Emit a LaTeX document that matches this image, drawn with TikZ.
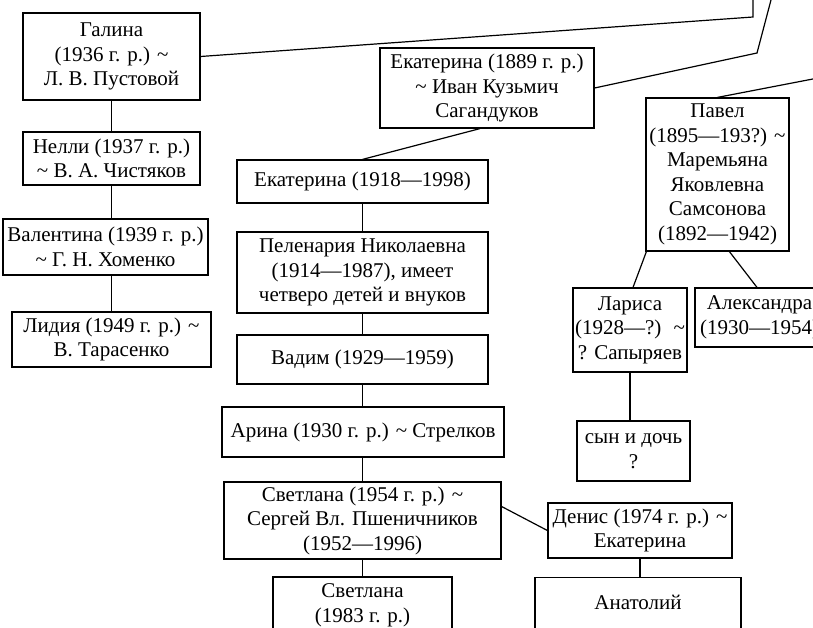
\documentclass[tikz,border=0pt]{standalone}
\usepackage{fontspec}
\setmainfont{Liberation Serif}
\usetikzlibrary{calc}
\newcommand{\tl}{\textasciitilde}
\tikzset{
  person/.style={draw, line width=1.2pt, align=center, inner sep=0pt,
    font=\fontsize{21}{24.5}\selectfont},
  link/.style={line width=1.2pt}
}
\begin{document}
\begin{tikzpicture}[x=1pt,y=-1pt]
\useasboundingbox (0,0) rectangle (813,628);
\clip (0,0) rectangle (813,628);
% left column
\node[person, minimum width=177pt, minimum height=87pt] (galina) at (111.5,56.5) {Галина\\(1936 г. р.) \tl\\Л. В. Пустовой};
\node[person, minimum width=177pt, minimum height=53pt] (nelli) at (111.5,158.5) {Нелли (1937 г. р.)\\\tl{} В. А. Чистяков};
\node[person, minimum width=205pt, minimum height=56pt] (valentina) at (105.5,247) {Валентина (1939 г. р.)\\\tl{} Г. Н. Хоменко};
\node[person, minimum width=199pt, minimum height=55pt] (lidia) at (111.5,339.5) {Лидия (1949 г. р.) \tl\\В. Тарасенко};
% middle column
\node[person, minimum width=214pt, minimum height=80pt] (e1889) at (487,88) {Екатерина (1889 г. р.)\\\tl{} Иван Кузьмич\\Сагандуков};
\node[person, minimum width=251pt, minimum height=43pt] (e1918) at (362.5,181.5) {Екатерина (1918—1998)};
\node[person, minimum width=251pt, minimum height=81pt] (pelenaria) at (362.5,272.5) {Пеленария Николаевна\\(1914—1987), имеет\\четверо детей и внуков};
\node[person, minimum width=251pt, minimum height=49pt] (vadim) at (362.5,359.5) {Вадим (1929—1959)};
\node[person, minimum width=282pt, minimum height=50pt] (arina) at (363,432) {Арина (1930 г. р.) \tl{} Стрелков};
\node[person, minimum width=277pt, minimum height=77pt] (svet54) at (362.5,520.5) {Светлана (1954 г. р.) \tl\\Сергей Вл. Пшеничников\\(1952—1996)};
\node[person, minimum width=179pt, minimum height=57pt] (svet83) at (362.5,605.5) {Светлана\\(1983 г. р.)};
% right column
\node[person, minimum width=143pt, minimum height=153pt] (pavel) at (717.5,174.5) {Павел\\(1895—193?) \tl\\Маремьяна\\Яковлевна\\Самсонова\\(1892—1942)};
\node[person, minimum width=114pt, minimum height=84pt] (larisa) at (630,330) {Лариса\\(1928—?) \ \tl\\? Сапыряев};
\node[person, minimum width=129pt, minimum height=59pt] (alex) at (759.5,317.5) {Александра\\(1930—1954)};
\node[person, minimum width=113pt, minimum height=60pt] (son) at (633.5,451) {сын и дочь\\?};
\node[person, minimum width=184pt, minimum height=55pt] (denis) at (640,530.5) {Денис (1974 г. р.) \tl\\Екатерина};
\node[person, minimum width=206pt, anchor=north, inner ysep=6pt, text height=26pt, text depth=30pt] (anatoliy) at (638,577) {Анатолий};
% free ends
\coordinate (g1) at (753,17);
\coordinate (g2) at (753,-5);
\coordinate (k1) at (757,53);
\coordinate (k2) at (772.3,-5);
\coordinate (p1) at (830,75.7);
% connectors
\draw[link] (galina.east) -- (g1) -- (g2);
\draw[link] (e1889.east) -- (k1) -- (k2);
\draw[link] (pavel.north) -- (p1);
\draw[link] (galina.south) -- (nelli.north);
\draw[link] (nelli.south) -- (nelli.south |- valentina.north);
\draw[link] (valentina.south -| nelli.south) -- (lidia.north);
\draw[link] ($(e1889.south)+(-7,0)$) -- (e1918.north);
\draw[link] (e1918.south) -- (pelenaria.north);
\draw[link] (pelenaria.south) -- (vadim.north);
\draw[link] (vadim.south) -- (vadim.south |- arina.north);
\draw[link] (arina.south -| vadim.south) -- (vadim.south |- svet54.north);
\draw[link] (svet54.south) -- (svet83.north);
\draw[link] ($(svet54.east)+(0,-14)$) -- (denis.west);
\draw[link] (denis.south) -- (denis.south |- anatoliy.north);
\draw[link] ($(pavel.south west)+(1,0)$) -- ($(larisa.north)+(3,0)$);
\draw[link] ($(pavel.south west)+(84,0)$) -- ($(alex.north)+(-2.5,0)$);
\draw[link] (larisa.south) -- (larisa.south |- son.north);
\end{tikzpicture}
\end{document}
